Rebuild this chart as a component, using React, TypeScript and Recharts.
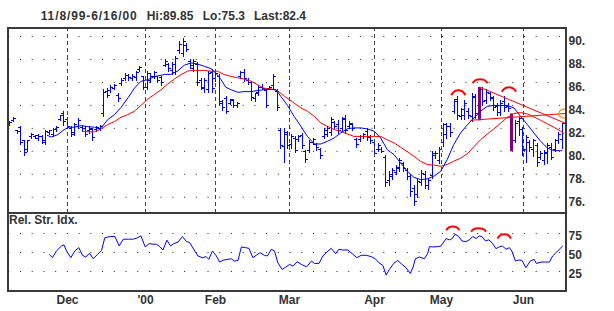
import React from 'react';
import {
  ComposedChart,
  Bar,
  Line,
  Scatter,
  XAxis,
  YAxis,
  CartesianGrid,
  ReferenceLine,
} from 'recharts';

// daily bars, 11/8/99 .. 6/16/00 (one entry per trading day)
const highs = [
  82.6, 83.0, 81.9, 82.2, 81.0, 81.0, 81.6, 81.45, 81.5, 81.45,
  81.9, 81.9, 82.0, 82.2, 83.2, 83.5, 83.0, 82.2, 82.5, 82.9,
  82.3, 82.2, 82.2, 82.0, 82.2, 82.3, 85.4, 85.5, 85.8, 85.9,
  85.1, 86.4, 86.8, 86.7, 86.7, 87.0, 87.4, 86.6, 87.0, 86.8,
  87.0, 86.6, 86.6, 88.0, 87.7, 87.8, 88.3, 89.6, 89.85, 89.4,
  88.0, 88.0, 87.8, 86.4, 86.4, 87.0, 87.2, 87.0, 86.7, 84.5,
  84.8, 84.6, 84.6, 84.3, 87.0, 87.2, 86.4, 86.1, 85.1, 85.8,
  85.9, 85.4, 85.7, 86.7, 85.4, 82.0, 82.0, 81.8, 81.5, 81.3,
  81.45, 81.6, 80.15, 81.0, 81.15, 80.7, 80.3, 82.0, 82.2, 83.0,
  82.6, 82.75, 83.0, 83.2, 82.6, 82.5, 81.15, 81.45, 81.6, 82.0,
  81.45, 81.0, 80.7, 80.4, 79.7, 78.3, 78.55, 78.85, 79.4, 79.1,
  78.55, 78.0, 77.1, 77.7, 78.4, 78.3, 77.7, 80.0, 80.0, 80.4,
  82.5, 82.5, 82.5, 84.6, 84.8, 83.8, 84.5, 83.8, 85.1, 85.0,
  85.6, 85.6, 85.4, 85.2, 84.8, 84.2, 84.5, 84.8, 84.2, 83.3,
  82.7, 83.0, 82.1, 81.4, 81.0, 81.1, 80.7, 80.0, 80.1, 80.7,
  80.7, 81.1, 81.7, 82.5,
];

const lows = [
  82.3, 82.6, 81.6, 80.6, 79.7, 80.0, 81.2, 81.2, 81.0, 80.7,
  80.6, 81.5, 81.3, 81.8, 82.7, 82.3, 82.0, 81.3, 81.4, 82.0,
  81.8, 81.3, 81.6, 81.0, 81.8, 81.9, 83.1, 84.7, 85.2, 85.4,
  84.4, 85.8, 86.2, 86.2, 86.2, 86.2, 87.0, 85.4, 85.4, 86.0,
  86.4, 86.0, 85.8, 87.4, 87.0, 86.7, 86.7, 88.6, 88.3, 88.7,
  87.3, 87.0, 85.8, 85.4, 85.2, 85.2, 85.2, 86.1, 84.0, 83.6,
  83.3, 84.1, 83.9, 83.9, 86.4, 86.1, 85.9, 84.5, 84.4, 84.9,
  85.4, 83.9, 85.4, 85.5, 83.6, 80.3, 79.1, 80.3, 80.3, 79.9,
  80.9, 80.3, 79.1, 79.9, 80.6, 80.15, 79.4, 81.15, 81.3, 81.45,
  82.0, 81.6, 81.9, 81.6, 82.0, 81.9, 80.4, 80.9, 81.2, 81.0,
  80.75, 79.6, 80.0, 79.9, 76.95, 77.1, 77.55, 78.0, 78.3, 78.3,
  77.55, 76.1, 75.3, 76.0, 77.1, 76.8, 76.7, 77.7, 79.4, 79.0,
  80.5, 81.2, 81.3, 83.35, 82.8, 82.8, 82.8, 82.9, 82.6, 82.9,
  82.7, 84.0, 84.2, 84.5, 83.6, 83.2, 83.2, 83.5, 83.5, 80.0,
  80.8, 81.4, 79.7, 79.1, 80.0, 79.6, 78.7, 79.3, 78.9, 79.0,
  79.3, 80.0, 80.7, 80.3,
];

const opens = [
  82.4, 82.7, 81.8, 82.1, 80.9, 80.2, 81.3, 81.3, 81.1, 81.3,
  80.8, 81.6, 81.5, 81.9, 82.8, 83.3, 82.8, 82.0, 81.6, 82.2,
  82.1, 82.0, 81.8, 81.9, 81.9, 82.0, 83.3, 85.2, 85.3, 85.5,
  84.9, 85.9, 86.3, 86.6, 86.3, 86.4, 87.1, 86.5, 85.6, 86.2,
  86.5, 86.5, 86.4, 87.5, 87.6, 87.0, 86.9, 88.8, 88.5, 89.2,
  87.8, 87.2, 87.6, 86.2, 85.5, 85.4, 86.9, 86.3, 86.5, 84.3,
  84.6, 84.2, 84.4, 84.0, 86.5, 86.9, 86.2, 86.0, 84.6, 85.1,
  85.6, 85.3, 85.5, 85.7, 85.2, 81.8, 80.4, 81.5, 80.6, 81.1,
  81.0, 81.4, 80.0, 80.1, 80.8, 80.6, 80.2, 81.3, 81.5, 81.6,
  82.5, 82.3, 82.0, 82.9, 82.2, 82.3, 81.0, 81.0, 81.3, 81.7,
  81.2, 80.8, 80.2, 80.2, 79.5, 77.5, 77.8, 78.2, 78.5, 78.9,
  78.3, 77.8, 76.8, 76.2, 77.3, 78.0, 77.0, 77.9, 79.6, 79.2,
  80.8, 81.5, 82.2, 83.5, 84.5, 83.0, 83.1, 83.5, 83.0, 84.7,
  83.0, 85.4, 84.4, 85.0, 84.6, 83.9, 83.4, 84.3, 83.9, 83.1,
  80.9, 82.6, 81.9, 80.2, 80.8, 80.2, 80.5, 79.5, 79.2, 79.8,
  80.3, 80.2, 80.9, 81.0,
];

const closes = [
  82.5, 82.9, 81.7, 80.8, 79.9, 80.9, 81.5, 81.4, 81.3, 80.9,
  81.7, 81.8, 81.9, 82.1, 83.1, 82.6, 82.2, 81.5, 82.3, 82.7,
  82.0, 81.5, 82.0, 81.2, 82.1, 82.2, 85.1, 84.9, 85.6, 85.7,
  84.6, 86.2, 86.6, 86.4, 86.5, 86.9, 87.3, 85.6, 86.8, 86.5,
  86.9, 86.2, 86.0, 87.8, 87.2, 87.6, 88.1, 89.3, 89.6, 88.9,
  87.5, 87.8, 86.0, 85.6, 86.2, 86.8, 85.5, 86.8, 84.2, 83.8,
  83.5, 84.5, 84.0, 84.2, 86.9, 86.3, 86.0, 84.7, 85.0, 85.6,
  85.5, 84.0, 85.6, 86.5, 83.8, 80.5, 81.6, 80.5, 81.3, 80.1,
  81.3, 80.5, 79.3, 80.8, 81.0, 80.3, 79.6, 81.8, 82.0, 82.8,
  82.2, 81.8, 82.8, 81.8, 82.4, 82.0, 80.6, 81.3, 81.5, 81.2,
  80.9, 79.8, 80.5, 80.0, 77.3, 78.0, 78.3, 78.6, 79.2, 78.5,
  77.8, 76.5, 75.6, 77.4, 78.1, 77.0, 77.5, 79.8, 79.8, 80.2,
  82.3, 82.2, 81.6, 84.3, 83.1, 83.6, 84.2, 83.1, 84.8, 83.3,
  85.3, 84.3, 85.1, 84.7, 83.8, 83.4, 84.2, 83.8, 83.7, 80.2,
  82.4, 82.9, 80.1, 81.2, 80.3, 80.9, 79.0, 79.8, 79.9, 80.5,
  79.5, 80.9, 81.5, 82.4,
];

// bars drawn thick in purple
const highlightDays = [130, 139];

// month boundaries (trading-day position) and their labels
const monthPos = [15.97, 37.57, 56.95, 77.44, 100.98, 119.53, 142.23];
const monthLabels = ['Dec', "'00", 'Feb', 'Mar', 'Apr', 'May', 'Jun'];

const priceTicks = [76, 78, 80, 82, 84, 86, 88, 90];
const rsiTicks = [25, 50, 75];

// moving averages: [day, value]
const fastMa = [
  [10.3, 81.4], [11.5, 81.25], [13.3, 81.46], [15.1, 81.9], [16.5, 82.1], [17.9, 82.1],
  [19.8, 82.24], [21.6, 82.15], [23.4, 82.1], [24.8, 81.95], [25.7, 82.2], [27.1, 82.76],
  [29, 83.2], [30.8, 83.83], [32.7, 84.65], [34.5, 85.5], [36.3, 86.1], [38.2, 86.24],
  [40, 86.5], [42.9, 86.7], [44.6, 86.7], [46.5, 87.0], [48.3, 87.5], [50.2, 87.7],
  [52, 87.6], [53.9, 87.4], [55.7, 87.2], [57.1, 86.8], [58.5, 86.24], [59.8, 85.58],
  [61.2, 85.37], [63.1, 85.14], [64.9, 85.2], [66.8, 85.2], [68.7, 85.3], [70.4, 85.37],
  [72.3, 85.4], [73.7, 85.37], [75, 84.8], [76.9, 84.0], [78.7, 83.05], [80.6, 82.18],
  [82.4, 81.3], [84.3, 80.64], [86.1, 80.64], [87.9, 80.87], [89.8, 81.16], [91.6, 81.6],
  [93.5, 81.97], [95.3, 82.04], [97.2, 82.04], [99, 81.95], [100.9, 81.75], [102.7, 81.16],
  [104.5, 80.15], [106.4, 79.7], [108.2, 78.99], [110.1, 78.26], [111.9, 77.74], [113.7, 77.54],
  [115.6, 77.6], [117.4, 77.83], [119.3, 78.26], [121.1, 79.28], [122.9, 80.58], [124.8, 81.6],
  [126.7, 82.32], [128.5, 82.9], [130.3, 83.49], [132.2, 83.92], [134, 84.0], [135.9, 83.98],
  [137.7, 84.0], [139.6, 83.78], [141.4, 83.05], [143.3, 82.33], [145.1, 81.6], [147, 80.87],
  [148.8, 80.3], [150.6, 80.06], [152.5, 80.06], [153, 80.06],
];

const slowMa = [
  [20, 81.75], [21.6, 81.7], [23.4, 81.7], [25.3, 81.95], [27.1, 82.33], [29, 82.6],
  [30.8, 82.96], [32.7, 83.2], [34.5, 83.49], [36.3, 84.0], [38.2, 84.55], [40, 84.94],
  [41.9, 85.37], [43.7, 85.86], [45.6, 86.3], [47.4, 86.68], [49.2, 86.97], [50.2, 87.05],
  [52, 87.05], [53.9, 87.05], [55.7, 86.97], [57.5, 86.97], [59.4, 86.68], [61.2, 86.53],
  [63.1, 86.4], [64.9, 86.3], [66.8, 86.1], [68.6, 85.8], [70.4, 85.5], [72.3, 85.43],
  [74.1, 85.28], [76, 84.8], [77.4, 84.5], [78.7, 84.2], [80.6, 83.78], [82.4, 83.49],
  [84.3, 83.05], [86.1, 82.47], [87.9, 82.18], [89.8, 81.9], [91.6, 81.75], [93.5, 81.5],
  [95.3, 81.3], [97.2, 81.3], [99, 81.3], [100.9, 81.3], [102.7, 81.3], [104.5, 81.0],
  [106.4, 80.73], [108.2, 80.36], [110.1, 79.95], [111.9, 79.57], [113.7, 79.14], [115.6, 78.85],
  [117.4, 78.8], [119.3, 78.7], [121.1, 78.85], [122.9, 79.14], [124.8, 79.4], [126.7, 79.8],
  [128.5, 80.4], [130.3, 81.0], [132.2, 81.5], [134, 81.95], [135.9, 82.45], [137.7, 82.95],
  [139.6, 83.3], [141.4, 83.38], [143.3, 83.25], [145.1, 83.0], [147, 82.7], [148.8, 82.4],
  [150.6, 82.1], [152.5, 81.75], [153.5, 81.54],
];

// relative strength index: [day, value]
const rsi = [
  [10.9, 47.6], [11.8, 43.2], [12.9, 52], [14.3, 58.6], [15, 60], [15.7, 52], [16.9, 43.2],
  [18, 52], [19.1, 56.4], [20.1, 46.3], [21, 44.1], [22.1, 48.9], [23.1, 41.8], [24.3, 47.6],
  [25.4, 52.9], [26.3, 69.3], [27.7, 71], [29.1, 71], [30.3, 58.6], [31.4, 67.5], [32.8, 67.5],
  [34.2, 67.5], [35.1, 68.8], [36.3, 71.9], [37.5, 57.3], [38.6, 61.7], [39.7, 60.9], [40.6, 60.9],
  [41.5, 57.8], [42.4, 53.3], [43.5, 66.2], [44.5, 58.6], [45.4, 61.7], [46.6, 63.9], [47.8, 71],
  [48.9, 64.4], [49.8, 63.1], [51.2, 52], [52.1, 45.4], [53.3, 43.2], [54.4, 44.5], [55.1, 41],
  [56.1, 52], [57.2, 45.4], [58.1, 37.4], [59.2, 40.1], [60.4, 41], [61.3, 41.8], [62.2, 38.7],
  [63.2, 39.6], [64.1, 57.3], [65.2, 56.4], [66.2, 55.5], [67.3, 43.2], [68.2, 46.3], [69.3, 49.8],
  [70.5, 46.3], [71.3, 45.4], [72.4, 54.2], [73.3, 52], [74.2, 36.5], [75.4, 27.7], [76.4, 30.8],
  [77.5, 34.3], [78.4, 32.1], [79.6, 37.9], [80.7, 34.3], [82.2, 31.2], [83.5, 38.7], [84.4, 35.6],
  [85.6, 35.6], [86.7, 45.4], [87.8, 50.7], [89, 55.5], [90.2, 48.5], [91.1, 54.2], [92.2, 53.3],
  [93.6, 53.3], [95, 47.6], [96.1, 43.2], [97.3, 46.3], [98.7, 46.3], [100.1, 44.5], [101.2, 41.8],
  [102.2, 36.5], [103.3, 33], [104.2, 20.2], [105.1, 27.7], [106.3, 35.6], [107.4, 39.6],
  [108.6, 34.3], [109.7, 29.9], [110.9, 22.4], [111.6, 29.9], [112.3, 41.8], [113.4, 44.1],
  [114.8, 41.8], [115.7, 48.9], [116.2, 57.7], [117.1, 57.3], [118.5, 57.7], [119.4, 58.6],
  [120.8, 68.4], [121.7, 66.6], [122.5, 68.4], [123.3, 74.1], [124.3, 71], [125.2, 65.2],
  [126.3, 64.3], [127.2, 66.6], [128.2, 71], [129.1, 68.4], [130, 71.9], [130.7, 71],
  [131.7, 65.2], [132.6, 66.6], [133.5, 63.1], [134.6, 55.1], [135.5, 57.3], [136.4, 58.6],
  [137.4, 54.2], [138.3, 56.4], [139, 52], [140, 38.7], [140.9, 40.1], [141.8, 39.6],
  [142.9, 29.9], [144.1, 38.7], [145.2, 41], [145.8, 35.6], [147.1, 37.4], [148.4, 37.4],
  [149.4, 37.4], [150.3, 45.4], [151.7, 52], [153.1, 58.6],
];

// hand-drawn annotations
const resistanceLine = [[130, 85.6], [154, 82.42]];
const supportLine = [[127.5, 82.7], [154, 83.3]];
const priceTops = [
  [[122.2, 84.9], [123.2, 85.25], [124.2, 85.32], [125.2, 85.25], [126.2, 84.9]],
  [[128.1, 85.93], [129.1, 86.22], [130.2, 86.28], [131.3, 86.22], [132.3, 85.93]],
  [[136.2, 85.2], [137.2, 85.5], [138.2, 85.58], [139.2, 85.5], [140.2, 85.2]],
];
const rsiTops = [
  [[120.8, 79.4], [121.7, 83.3], [122.6, 84.3], [123.6, 83.3], [124.5, 79.4]],
  [[127.7, 77.7], [128.7, 81.2], [129.8, 82.0], [130.9, 81.2], [131.9, 77.7]],
  [[135, 68.4], [136, 73.2], [137, 74.1], [137.9, 73.2], [138.8, 68.4]],
];
const lastMark = [[153.6, 83.28]];

const X_DOMAIN: [number, number] = [-0.5, 154];
const PRICE_DOMAIN: [number, number] = [74.63, 90.74];
const RSI_DOMAIN: [number, number] = [-0.66, 101.97];
const INK = '#333';
const FONT = '"Liberation Sans", Arial, sans-serif';
const BLUE = '#0000ff';
const RED = '#ff0000';

const pts = (list: number[][]) => list.map(([i, v]) => ({ i, v }));

const days = highs.map((h, i) => ({
  i,
  range: [lows[i], h],
  open: opens[i],
  close: closes[i],
  mark: highlightDays.includes(i),
}));

// snap to pixel centres so 1px strokes stay sharp
const crisp = (v: number) => Math.round(v - 0.5) + 0.5;

function OhlcBar(props: any) {
  const { x, y, width, height, payload } = props;
  if (x == null || y == null || !payload) return null;
  const top = Math.min(y, y + height);
  const bottom = Math.max(y, y + height);
  const [lo, hi] = payload.range;
  const at = (v: number) => crisp(top + ((hi - v) / (hi - lo)) * (bottom - top));
  const cx = crisp(x + width / 2);
  if (payload.mark) {
    return <line x1={cx} x2={cx} y1={top} y2={bottom} stroke="#800080" strokeWidth={3} />;
  }
  return (
    <g stroke={BLUE} strokeWidth={1}>
      <line x1={cx} x2={cx} y1={Math.round(top)} y2={Math.round(bottom) + 1} />
      <line x1={cx - 2.5} x2={cx} y1={at(payload.open)} y2={at(payload.open)} />
      <line x1={cx} x2={cx + 2.5} y1={at(payload.close)} y2={at(payload.close)} />
    </g>
  );
}

const dotRow = (p: any) => (
  <line
    key={`row-${p.index}-${p.y1}`}
    x1={p.x1}
    x2={p.x2}
    y1={p.y1}
    y2={p.y2}
    stroke="#222"
    strokeWidth={1}
    strokeDasharray="1 10.72"
    strokeDashoffset={-0.28}
  />
);

const PriceTick = ({ x, y, payload }: any) => (
  <text x={x} y={y + 8.6} fill={INK} fontSize={12} fontWeight="bold" fontFamily={FONT}>
    {payload.value}.
  </text>
);

const RsiTick = ({ x, y, payload }: any) => (
  <text x={x} y={y + 7} fill={INK} fontSize={12} fontWeight="bold" fontFamily={FONT}>
    {payload.value}
  </text>
);

const MonthTick = ({ x, y, payload }: any) => {
  const k = monthPos.indexOf(payload.value);
  return (
    <text x={x} y={y + 13} textAnchor="middle" fill={INK} fontSize={12} fontWeight="bold" fontFamily={FONT}>
      {k >= 0 ? monthLabels[k] : ''}
    </text>
  );
};

function PriceChart() {
  return (
    <ComposedChart width={614} height={214} data={days} margin={{ top: 28, right: 0, bottom: 1, left: 8 }}>
      <CartesianGrid vertical={false} horizontal={dotRow} />
      <XAxis type="number" dataKey="i" domain={X_DOMAIN} allowDataOverflow hide />
      <YAxis
        orientation="right"
        width={48}
        domain={PRICE_DOMAIN}
        allowDataOverflow
        ticks={priceTicks}
        interval={0}
        axisLine={false}
        tickLine={false}
        tickSize={0}
        tickMargin={2.5}
        tick={PriceTick}
      />
      {monthPos.map((m) => (
        <ReferenceLine key={m} x={m} stroke="#404040" strokeDasharray="4 3" />
      ))}
      <Line data={pts(slowMa)} dataKey="v" stroke={RED} strokeWidth={1} dot={false} isAnimationActive={false} />
      <Line data={pts(fastMa)} dataKey="v" stroke={BLUE} strokeWidth={1} dot={false} isAnimationActive={false} />
      <Bar dataKey="range" barSize={2} shape={OhlcBar} isAnimationActive={false} />
      <Line data={pts(resistanceLine)} dataKey="v" stroke={RED} strokeWidth={1} dot={false} isAnimationActive={false} />
      <Line data={pts(supportLine)} dataKey="v" stroke={RED} strokeWidth={1} dot={false} isAnimationActive={false} />
      {priceTops.map((arc, k) => (
        <Line
          key={`top-${k}`}
          data={pts(arc)}
          dataKey="v"
          type="monotone"
          stroke={RED}
          strokeWidth={2}
          dot={false}
          isAnimationActive={false}
        />
      ))}
      <Scatter
        data={pts(lastMark)}
        dataKey="v"
        isAnimationActive={false}
        shape={(p: any) => (
          <ellipse cx={p.cx} cy={p.cy} rx={6} ry={4.5} fill="none" stroke="#ff8c1a" strokeWidth={1.2} />
        )}
      />
    </ComposedChart>
  );
}

function RsiChart() {
  return (
    <ComposedChart width={614} height={98} margin={{ top: 0, right: 0, bottom: 0, left: 8 }}>
      <CartesianGrid vertical={false} horizontal={dotRow} />
      <XAxis
        type="number"
        dataKey="i"
        domain={X_DOMAIN}
        allowDataOverflow
        ticks={monthPos}
        interval={0}
        height={20}
        axisLine={false}
        tickLine={false}
        tickSize={0}
        tickMargin={0}
        tick={MonthTick}
      />
      <YAxis
        orientation="right"
        width={48}
        domain={RSI_DOMAIN}
        allowDataOverflow
        ticks={rsiTicks}
        interval={0}
        axisLine={false}
        tickLine={false}
        tickSize={0}
        tickMargin={2.5}
        tick={RsiTick}
      />
      <Line data={pts(rsi)} dataKey="v" stroke={BLUE} strokeWidth={1} dot={false} isAnimationActive={false} />
      {rsiTops.map((arc, k) => (
        <Line
          key={`rtop-${k}`}
          data={pts(arc)}
          dataKey="v"
          type="monotone"
          stroke={RED}
          strokeWidth={2}
          dot={false}
          isAnimationActive={false}
        />
      ))}
    </ComposedChart>
  );
}

export default function App() {
  const textStyle = { fontFamily: FONT, fontWeight: 'bold' as const, fontSize: 12, fill: INK };
  return (
    <div style={{ position: 'absolute', left: 0, top: 0, width: 614, height: 311, background: '#fff', overflow: 'hidden' }}>
      <div style={{ position: 'absolute', left: 0, top: 0 }}>
        <PriceChart />
      </div>
      <div style={{ position: 'absolute', left: 0, top: 213 }}>
        <RsiChart />
      </div>
      {/* panel frame */}
      <div
        style={{
          position: 'absolute',
          left: 7,
          top: 27,
          width: 560,
          height: 265,
          border: '2px solid #3a3a3a',
          boxSizing: 'border-box',
          pointerEvents: 'none',
        }}
      />
      <div style={{ position: 'absolute', left: 7, top: 212, width: 560, height: 2, background: '#3a3a3a', pointerEvents: 'none' }} />
      <svg width={614} height={311} style={{ position: 'absolute', left: 0, top: 0, pointerEvents: 'none' }}>
        <text x={40.7} y={20} textLength={96} lengthAdjust="spacing" {...textStyle}>11/8/99-6/16/00</text>
        <text x={146.7} y={20} textLength={46.7} lengthAdjust="spacing" {...textStyle}>Hi:89.85</text>
        <text x={202.7} y={20} textLength={42.3} lengthAdjust="spacing" {...textStyle}>Lo:75.3</text>
        <text x={254} y={20} textLength={52} lengthAdjust="spacing" {...textStyle}>Last:82.4</text>
        <text x={9} y={223.5} {...textStyle}>Rel. Str. Idx.</text>
      </svg>
    </div>
  );
}
